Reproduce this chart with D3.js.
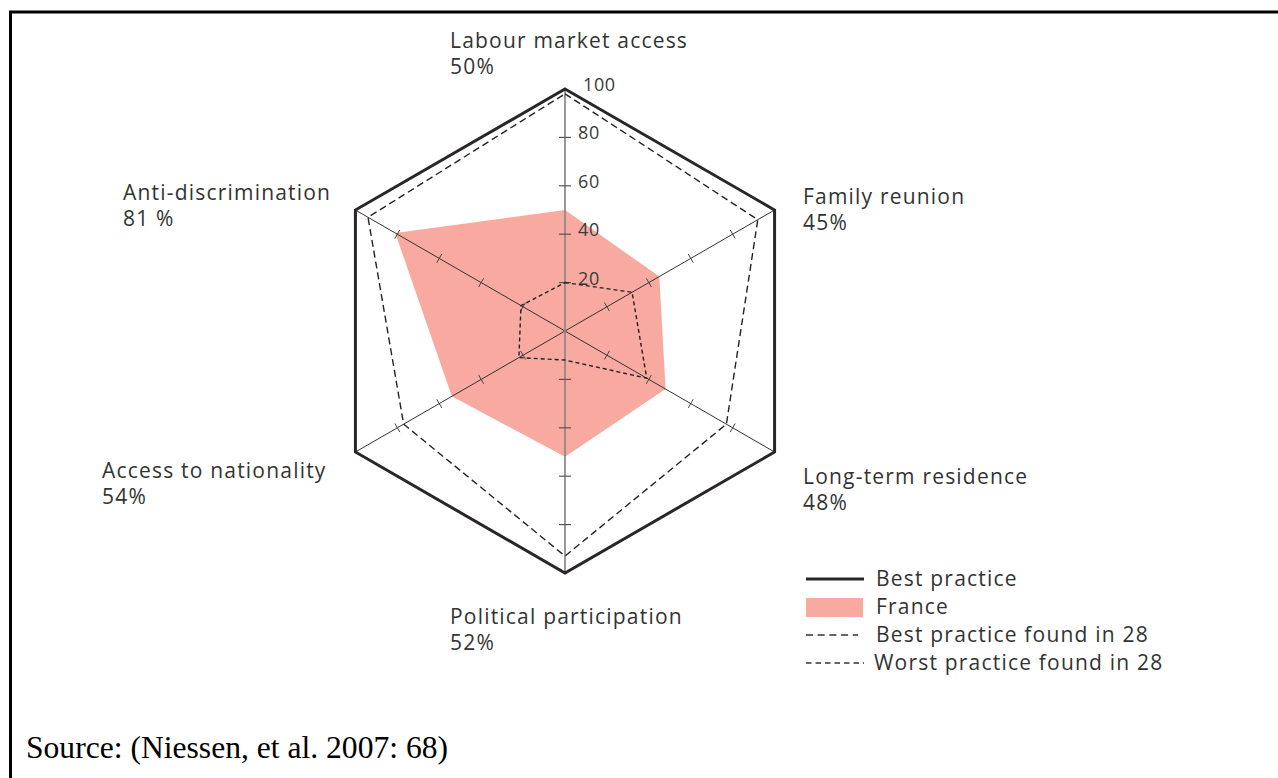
<!DOCTYPE html>
<html><head><meta charset="utf-8">
<script src="https://cdn.jsdelivr.net/npm/d3@7"></script>
<style>
html,body{margin:0;padding:0;background:#fff;}
svg{display:block;}
</style></head>
<body>
<script>
const categories = ["Labour market access","Family reunion","Long-term residence","Political participation","Access to nationality","Anti-discrimination"];
const scoreLabels = ["50%","45%","48%","52%","54%","81 %"];
const france = [50,45,48,52,54,81];
const bestPractice = [100,100,100,100,100,100];
const bestFound = [98,92,77,93,77,94];
const worstFound = [20,32,39,12,22,21];
const tickValues = [20,40,60,80];
const tickLabels = ["20","40","60","80","100"];
const legendItems = ["Best practice","France","Best practice found in 28","Worst practice found in 28"];
const sourceText = "Source: (Niessen, et al. 2007: 68)";

(function(){
const W = 1278, H = 778;
const cx = 565, cy = 331, R = 242;
const FONT = "Open Sans, sans-serif";
const svg = d3.select("body").append("svg").attr("width", W).attr("height", H);

// frame
svg.append("rect").attr("x", 10.5).attr("y", 12).attr("width", 1300).attr("height", 900)
  .attr("fill", "none").attr("stroke", "#000").attr("stroke-width", 3);

const r = d3.scaleLinear().domain([0,100]).range([0,R]);
const angle = d3.scalePoint().domain(categories).range([-Math.PI/2, -Math.PI/2 + 2*Math.PI*5/6]);
const pt = (c, v) => [cx + r(v)*Math.cos(angle(c)), cy + r(v)*Math.sin(angle(c))];
const poly = vals => d3.line()(categories.map((c,i) => pt(c, vals[i]))) + "Z";

// France fill
svg.append("path").attr("d", poly(france)).attr("fill", "#f8a9a0");

// axes
categories.forEach((c, i) => {
  if (i === 0 || i === 3) return;
  const a = angle(c);
  svg.append("line").attr("x1", cx).attr("y1", cy)
    .attr("x2", pt(c,100)[0]).attr("y2", pt(c,100)[1])
    .attr("stroke", "#333").attr("stroke-width", 1);
  tickValues.forEach(t => {
    const [x, y] = pt(c, t);
    const px = -Math.sin(a), py = Math.cos(a);
    svg.append("line").attr("x1", x - px*5).attr("y1", y - py*5)
      .attr("x2", x + px*5).attr("y2", y + py*5)
      .attr("stroke", "#444").attr("stroke-width", 1);
  });
});
// vertical axis
const pTop = pt(categories[0],100), pBot = pt(categories[3],100);
svg.append("line").attr("x1", pTop[0]).attr("y1", pTop[1]).attr("x2", pBot[0]).attr("y2", pBot[1])
  .attr("stroke", "#8e8585").attr("stroke-opacity", 0.85).attr("stroke-width", 2);
[0,3].forEach(i => {
  tickValues.forEach(t => {
    const [x, y] = pt(categories[i], t);
    svg.append("line").attr("x1", x - 6).attr("y1", y).attr("x2", x + 6).attr("y2", y)
      .attr("stroke", "#555").attr("stroke-width", 1.2);
  });
});
// tick labels
[20,40,60,80,100].forEach((t, k) => {
  const [x, y] = pt(categories[0], t);
  svg.append("text").attr("x", x + (t === 100 ? 18 : 13)).attr("y", y + 2)
    .attr("font-family", FONT).attr("font-size", 18).attr("letter-spacing", 0.6)
    .attr("fill", "#3a3a3a").text(tickLabels[k]);
});

// dashed polygons
svg.append("path").attr("d", poly(bestFound)).attr("fill", "none")
  .attr("stroke", "#222").attr("stroke-width", 1.4).attr("stroke-dasharray", "7,4");
svg.append("path").attr("d", poly(worstFound)).attr("fill", "none")
  .attr("stroke", "#222").attr("stroke-width", 1.4).attr("stroke-dasharray", "4,3");

// best practice hexagon
svg.append("path").attr("d", poly(bestPractice)).attr("fill", "none")
  .attr("stroke", "#2a2526").attr("stroke-width", 3).attr("stroke-linejoin", "miter");

// category labels
const labelPos = [[450,48],[803,204],[803,484],[450,624],[102,478],[123,200]];
categories.forEach((c, i) => {
  const g = svg.append("text").attr("font-family", FONT).attr("font-size", 21)
    .attr("letter-spacing", 1.2).attr("fill", "#333");
  g.append("tspan").attr("x", labelPos[i][0]).attr("y", labelPos[i][1]).text(c);
  g.append("tspan").attr("x", labelPos[i][0]).attr("y", labelPos[i][1] + 26).text(scoreLabels[i]);
});

// legend
const lg = svg.append("g").attr("font-family", FONT).attr("font-size", 21)
  .attr("letter-spacing", 1.2).attr("fill", "#333");
lg.append("line").attr("x1", 806).attr("x2", 864).attr("y1", 579).attr("y2", 579)
  .attr("stroke", "#2a2526").attr("stroke-width", 3);
lg.append("rect").attr("x", 806).attr("y", 598).attr("width", 57).attr("height", 19).attr("fill", "#f8a9a0");
lg.append("line").attr("x1", 806).attr("x2", 858).attr("y1", 635).attr("y2", 635)
  .attr("stroke", "#333").attr("stroke-width", 1.4).attr("stroke-dasharray", "7,4.7");
lg.append("line").attr("x1", 806).attr("x2", 864).attr("y1", 663).attr("y2", 663)
  .attr("stroke", "#333").attr("stroke-width", 1.4).attr("stroke-dasharray", "5.5,4");
[586, 614, 642, 670].forEach((y, i) => {
  lg.append("text").attr("x", i === 3 ? 874 : 876).attr("y", y).text(legendItems[i]);
});

// source
svg.append("text").attr("x", 26).attr("y", 758)
  .attr("font-family", "Liberation Serif, Times New Roman, serif").attr("font-size", 31.6)
  .attr("fill", "#000").text(sourceText);
})();
</script>
</body></html>
